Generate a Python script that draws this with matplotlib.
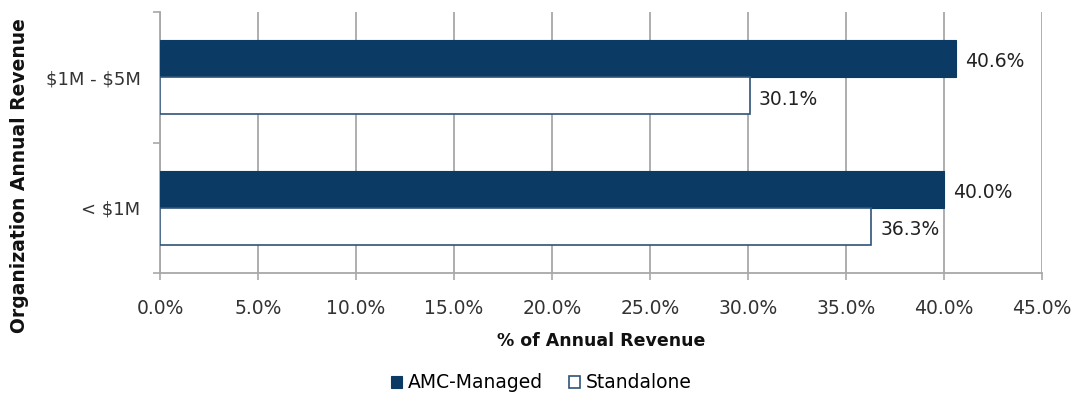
import matplotlib
matplotlib.use("Agg")
import matplotlib.pyplot as plt
import numpy as np

categories = ["< \\$1M", "\\$1M - \\$5M"]
amc_managed = [40.0, 40.6]
standalone = [36.3, 30.1]
series_names = ["AMC-Managed", "Standalone"]
xticks = [0, 5, 10, 15, 20, 25, 30, 35, 40, 45]

navy = "#0B3A64"
grid_gray = "#A8A8A8"

plt.rcParams['font.family'] = ['DejaVu Sans']

fig = plt.figure(figsize=(10.76, 3.95), dpi=100)
ax = fig.add_axes([160/1076, 1-273/395, (1042-160)/1076, (273-12)/395])

y = np.arange(len(categories))
h = 0.285
ax.barh(y + h/2, amc_managed, height=h, color=navy, edgecolor=navy, linewidth=0.8,
        label=series_names[0], zorder=3)
ax.barh(y - h/2, standalone, height=h, color="white", edgecolor="#2F5478", linewidth=1.2,
        label=series_names[1], zorder=3)

for yi, v in zip(y + h/2, amc_managed):
    ax.text(v + 0.45, yi - 0.025, f"{v:.1f}%", va="center", ha="left", fontsize=13.5, color="#222222", zorder=4)
for yi, v in zip(y - h/2, standalone):
    ax.text(v + 0.45, yi - 0.025, f"{v:.1f}%", va="center", ha="left", fontsize=13.5, color="#222222", zorder=4)

ax.set_xlim(0, 45)
ax.set_ylim(-0.5, 1.5)
ax.set_xticks(xticks)
ax.set_xticklabels([f"{t:.1f}%" for t in xticks], fontsize=13.5, color="#333333")
ax.set_yticks(y)
ax.set_yticklabels(categories, fontsize=13, color="#333333")
ax.set_yticks([-0.5, 0.5, 1.5], minor=True)
ax.tick_params(axis="y", which="major", length=0, pad=14)
ax.tick_params(axis="y", which="minor", length=5, color=grid_gray, width=1.2, direction="out")
ax.tick_params(axis="x", which="major", length=5, color=grid_gray, width=1.2, direction="out", pad=14)

ax.xaxis.grid(True, color=grid_gray, linewidth=1.3, zorder=0)
ax.set_axisbelow(True)
for s in ["top", "right"]:
    ax.spines[s].set_visible(False)
for s in ["left", "bottom"]:
    ax.spines[s].set_color(grid_gray)
    ax.spines[s].set_linewidth(1.3)

ax.set_xlabel("% of Annual Revenue", fontsize=12.5, fontweight="bold", color="#111111", labelpad=10)
fig.text(20/1076, 1-176/395, "Organization Annual Revenue", rotation=90, fontsize=13.5,
         fontweight="bold", color="#111111", ha="center", va="center")

fig.legend(loc="center", bbox_to_anchor=(541/1076, 1-383/395), ncol=2, frameon=False,
           fontsize=13.5, handlelength=0.6, handleheight=0.6, handletextpad=0.3, columnspacing=1.4)

fig.savefig("out.png", dpi=100)
